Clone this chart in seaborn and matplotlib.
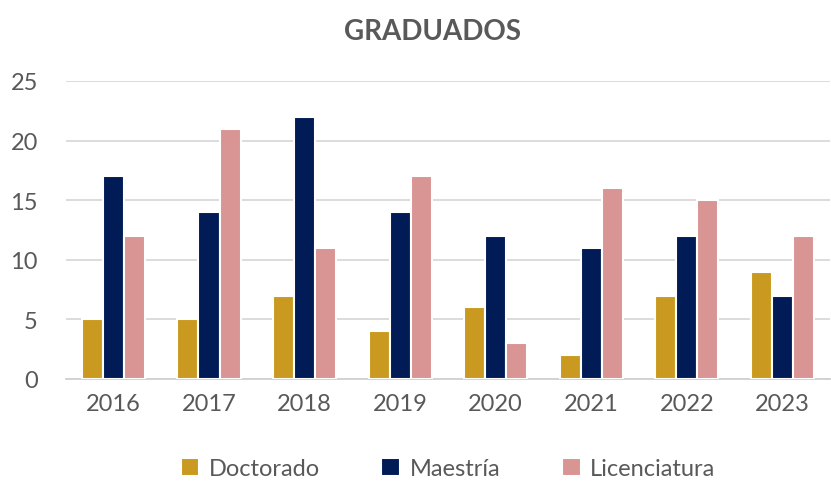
import numpy as np
import pandas as pd
from matplotlib import pyplot as plt
import seaborn as sns

# Data
years = ['2016', '2017', '2018', '2019', '2020', '2021', '2022', '2023']
doctorado = [5, 5, 7, 4, 6, 2, 7, 9]
maestria = [17, 14, 22, 14, 12, 11, 12, 7]
licenciatura = [12, 21, 11, 17, 3, 16, 15, 12]
series = ['Doctorado', 'Maestría', 'Licenciatura']
colors = ['#C99A1F', '#001B55', '#D99594']

df = pd.DataFrame({'Año': years, 'Doctorado': doctorado,
                   'Maestría': maestria, 'Licenciatura': licenciatura})
df = df.melt(id_vars='Año', var_name='Nivel', value_name='Graduados')

sns.set_style('white')
plt.rcParams['font.family'] = ['Lato', 'DejaVu Sans']

fig = plt.figure(figsize=(8.31, 4.85), dpi=100)
ax = fig.add_axes([0.079, 0.2165, 0.92, 0.6145])

sns.barplot(data=df, x='Año', y='Graduados', hue='Nivel', hue_order=series,
            palette=colors, saturation=1, width=0.66, edgecolor='white',
            linewidth=1.5, ax=ax, zorder=3)

ax.set_ylim(0, 25)
ax.set_yticks(range(0, 26, 5))
ax.set_xlim(-0.5, 7.5)
ax.grid(axis='y', color='#D9D9D9', linewidth=1.3, zorder=0)
ax.set_axisbelow(True)
for s in ['top', 'right', 'left']:
    ax.spines[s].set_visible(False)
ax.spines['bottom'].set_color('#D0D0D0')
ax.spines['bottom'].set_linewidth(1.3)
ax.tick_params(axis='both', length=0, labelsize=17, labelcolor='#595959', pad=10)
ax.tick_params(axis='y', pad=20)
ax.set_xlabel('')
ax.set_ylabel('')

fig.suptitle('GRADUADOS', x=0.52, y=0.96, fontsize=20, fontweight='bold', color='#595959')

handles, labels = ax.get_legend_handles_labels()
ax.legend(handles, labels, loc='center', bbox_to_anchor=(0.5, -0.30), ncol=3,
          frameon=False, fontsize=17, labelcolor='#595959', handlelength=0.8,
          handleheight=0.8, handletextpad=0.4, columnspacing=2.6)

plt.savefig('out.png', dpi=100)
